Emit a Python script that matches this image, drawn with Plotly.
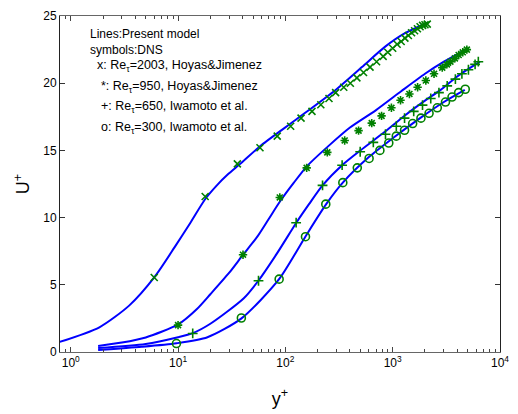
import plotly.graph_objects as go

# ---- model lines (y+, U+) ----
lineA_y = [0.79, 1.85, 3.5, 6, 9.3, 13, 18, 23, 29, 38, 60, 126, 294, 517, 846, 1290, 2100]
lineA_u = [0.75, 1.84, 3.45, 5.55, 7.8, 9.6, 11.4, 12.4, 13.2, 14.0, 15.4, 17.3, 19.5, 21.2, 22.7, 23.7, 24.5]

lineB_y = [1.8, 3, 5, 10, 15, 20, 30, 40, 55, 70, 90, 120, 160, 250, 400, 700, 1200, 2000, 3000, 4800]
lineB_u = [0.45, 0.7, 1.08, 2.05, 3.2, 4.3, 5.9, 7.2, 8.6, 9.9, 11.25, 12.6, 13.85, 15.3, 16.7, 18.0, 19.4, 20.7, 21.6, 22.5]

lineC_y = [1.8, 5, 10, 13.7, 20, 41, 56, 83, 126, 166, 222, 338, 500, 850, 1300, 2000, 2800, 4000, 6500]
lineC_u = [0.3, 0.6, 1.1, 1.4, 2.1, 4.0, 5.3, 7.3, 9.6, 11.0, 12.4, 13.9, 15.0, 16.4, 17.6, 18.7, 19.5, 20.5, 21.6]

lineD_y = [1.8, 4.6, 9.7, 18.8, 39, 87, 154, 240, 343, 600, 1000, 1800, 3000, 4700]
lineD_u = [0.15, 0.39, 0.65, 1.1, 2.5, 5.4, 8.6, 11.0, 12.6, 14.5, 15.9, 17.4, 18.6, 19.5]

# ---- DNS symbols ----
dnsA_y = [6, 17.9, 35.7, 58, 84, 112, 140, 177, 214, 255, 294, 350, 403, 464, 535, 615, 708, 815,
          900, 1000, 1100, 1200, 1300, 1400, 1500, 1600, 1700, 1800, 1900, 2000, 2100]
dnsA_u = [5.54, 11.57, 14.0, 15.2, 16.06, 16.8, 17.4, 17.9, 18.4, 18.86, 19.3, 19.7, 20.0, 20.4, 20.8, 21.2, 21.6, 22.0,
          22.3, 22.6, 22.9, 23.1, 23.35, 23.55, 23.75, 23.9, 24.05, 24.2, 24.3, 24.35, 24.4]

dnsB_y = [10, 40.3, 88.7, 158, 246, 357, 481, 638, 788, 973, 1183, 1432, 1707, 2037, 2428, 2896,
          3200, 3451, 3800, 4120, 4500, 4910]
dnsB_u = [2.0, 7.24, 11.5, 13.7, 14.85, 15.74, 16.47, 17.03, 17.57, 18.17, 18.73, 19.2, 19.7, 20.2, 20.7, 21.16,
          21.4, 21.6, 21.85, 22.1, 22.3, 22.5]

dnsC_y = [13.7, 56.2, 126, 222, 338, 498, 660, 857, 1081, 1290, 1570, 1897, 2263, 2698, 3222, 3840,
          4415, 5080, 5860, 6280]
dnsC_u = [1.38, 5.3, 9.62, 12.4, 13.9, 14.9, 15.6, 16.2, 16.8, 17.4, 17.9, 18.37, 18.86, 19.3, 19.8, 20.3,
          20.7, 21.0, 21.4, 21.6]

dnsD_y = [9.66, 38.9, 87.5, 154, 238, 343, 468, 603, 760, 920, 1080, 1290, 1535, 1834, 2183, 2605,
          3105, 3572, 4120, 4746]
dnsD_u = [0.63, 2.53, 5.42, 8.58, 11.0, 12.6, 13.7, 14.4, 15.0, 15.55, 16.06, 16.5, 17.0, 17.4, 17.76, 18.17,
          18.6, 18.97, 19.3, 19.55]

legend_lines = [
    "Lines:Present model<br>symbols:DNS",
    "x: Re<sub>τ</sub>=2003, Hoyas&Jimenez",
    "*: Re<sub>τ</sub>=950, Hoyas&Jimenez",
    "+: Re<sub>τ</sub>=650, Iwamoto et al.",
    "o: Re<sub>τ</sub>=300, Iwamoto et al.",
]

x_tickvals = [1, 10, 100, 1000, 10000]
x_ticktext = ["10<sup>0</sup>", "10<sup>1</sup>", "10<sup>2</sup>", "10<sup>3</sup>", "10<sup>4</sup>"]
y_tickvals = [0, 5, 10, 15, 20, 25]

BLUE = "#0000FF"
GREEN = "#008000"
FONT = "Liberation Sans, Arial, sans-serif"

fig = go.Figure()
for xs, ys in [(lineA_y, lineA_u), (lineB_y, lineB_u), (lineC_y, lineC_u), (lineD_y, lineD_u)]:
    fig.add_trace(go.Scatter(x=xs, y=ys, mode="lines",
                             line=dict(color=BLUE, width=2, shape="spline", smoothing=0.7),
                             showlegend=False, hoverinfo="skip"))

for xs, ys, sym in [(dnsA_y, dnsA_u, "x-thin-open"), (dnsB_y, dnsB_u, "asterisk-open"),
                    (dnsC_y, dnsC_u, "cross-thin-open"), (dnsD_y, dnsD_u, "circle-open")]:
    fig.add_trace(go.Scatter(x=xs, y=ys, mode="markers",
                             marker=dict(symbol=sym, size=7 if sym != "circle-open" else 8,
                                         color=GREEN, line=dict(color=GREEN, width=1.6)),
                             showlegend=False, hoverinfo="skip"))

minor_vals = [0.8, 0.9]
for dec in [1, 10, 100, 1000]:
    for k in range(2, 10):
        minor_vals.append(k * dec)

fig.update_xaxes(type="log", range=[-0.1, 4], tickvals=x_tickvals, ticktext=x_ticktext,
                 ticks="inside", ticklen=5, tickcolor="#444", showline=True, linecolor="#666",
                 linewidth=1, mirror="ticks", showgrid=False, zeroline=False,
                 minor=dict(ticks="inside", ticklen=3, tickvals=minor_vals, tickcolor="#444", showgrid=False),
                 tickfont=dict(family=FONT, size=12, color="#000"),
                 title=dict(text="y<sup>+</sup>", font=dict(family=FONT, size=18, color="#000"), standoff=22))
fig.update_yaxes(range=[0, 25], tickvals=y_tickvals, ticks="inside", ticklen=5, tickcolor="#333",
                 showline=True, linecolor="#222", linewidth=1, mirror="ticks", showgrid=False,
                 zeroline=False, tickfont=dict(family=FONT, size=12, color="#000"),
                 title=dict(text="U<sup>+</sup>", font=dict(family=FONT, size=18, color="#000"), standoff=8))

ys_px = [36, 60, 81, 102, 123]
xs_px = [88, 96, 100, 100, 100]
sizes = [12, 12.5, 12.5, 12.5, 12.5]
for txt, yp, xp, fs in zip(legend_lines, ys_px, xs_px, sizes):
    fig.add_annotation(text=txt, xref="paper", yref="paper",
                       x=(xp - 60) / 447, y=1 - (yp - 9) / 343,
                       xanchor="left", yanchor="middle", showarrow=False, align="left",
                       font=dict(family=FONT, size=fs, color="#000"))

fig.update_layout(width=518, height=414, margin=dict(l=60, r=11, t=9, b=62),
                  paper_bgcolor="white", plot_bgcolor="white")
fig.write_html("out.html")
